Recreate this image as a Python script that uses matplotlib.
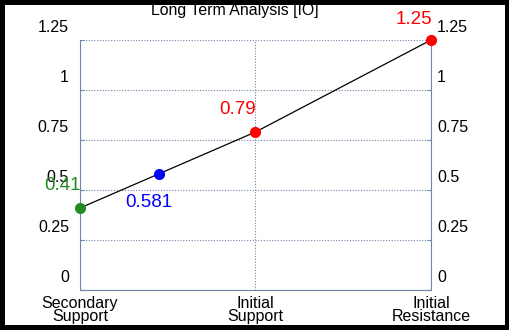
import matplotlib.pyplot as plt
from matplotlib.transforms import ScaledTranslation, blended_transform_factory

# data
categories = ['Secondary\nSupport', 'Initial\nSupport', 'Initial\nResistance']
x_pos = [0, 0.45, 1, 2]
values = [0.41, 0.581, 0.79, 1.25]
labels = ['0.41', '0.581', '0.79', '1.25']
colors = ['#228B22', '#0000FF', '#FF0000', '#FF0000']
y_ticks = [0, 0.25, 0.5, 0.75, 1, 1.25]
y_labels = ['0', '0.25', '0.5', '0.75', '1', '1.25']

plt.rcParams['font.family'] = ['Liberation Sans', 'DejaVu Sans']
axis_col = '#6f86a8'

fig = plt.figure(figsize=(5.1, 3.3), dpi=100)
fig.patch.set_edgecolor('black')
fig.patch.set_linewidth(6)
ax = fig.add_axes([80 / 510, 40 / 330, 351 / 510, 250 / 330])

ax.plot(x_pos, values, color='black', lw=0.9, zorder=2)
for x, v, c in zip(x_pos, values, colors):
    ax.plot(x, v, 'o', color=c, ms=7, zorder=3, clip_on=False)

# value labels (offsets in pixels from the point)
offsets = [(-17, 22), (-10, -29), (-18, 22), (-17, 21)]
for x, v, t, c, (dx, dy) in zip(x_pos, values, labels, colors, offsets):
    ax.annotate(t, (x, v), xytext=(dx, dy), textcoords='offset pixels',
                color=c, fontsize=13.5, ha='center', va='center', zorder=4,
                annotation_clip=False)

ax.set_xlim(0, 2)
ax.set_ylim(0, 1.25)
ax.set_xticks([0, 1, 2])
ax.set_xticklabels(categories, fontsize=11.5, linespacing=0.85)
ax.set_yticks(y_ticks)
ax.set_yticklabels([])
ax.tick_params(axis='y', direction='in', length=3, color=axis_col, right=True)
ax.tick_params(axis='x', length=0, pad=4)

# y labels sit a bit above their gridline, on both sides
left = blended_transform_factory(ax.transAxes, ax.transData)
up_l = ScaledTranslation(-0.11, 0.13, fig.dpi_scale_trans)
up_r = ScaledTranslation(0.06, 0.13, fig.dpi_scale_trans)
for v, t in zip(y_ticks, y_labels):
    ax.text(0, v, t, transform=left + up_l, ha='right', va='center', fontsize=11.5)
    ax.text(1, v, t, transform=left + up_r, ha='left', va='center', fontsize=11.5)

ax.grid(True, color=axis_col, linestyle=(0, (1, 1.5)), lw=0.8)
for s in ['left', 'right', 'bottom']:
    ax.spines[s].set_color(axis_col)
ax.spines['top'].set_visible(False)

fig.text(235 / 510, 1 - 10 / 330, 'Long Term Analysis [IO]', ha='center', va='center', fontsize=11.4)

fig.savefig('out.png', dpi=100, edgecolor=fig.get_edgecolor())
